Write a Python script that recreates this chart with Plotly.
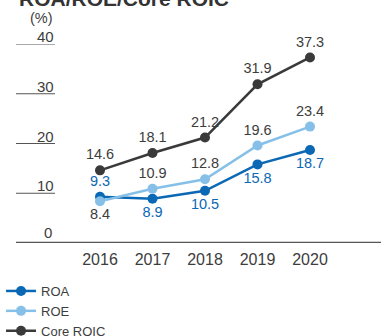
import plotly.graph_objects as go

years = [2016, 2017, 2018, 2019, 2020]
roa = [9.3, 8.9, 10.5, 15.8, 18.7]
roe = [8.4, 10.9, 12.8, 19.6, 23.4]
roic = [14.6, 18.1, 21.2, 31.9, 37.3]
y_ticks = [10, 20, 30, 40]
title_text = "ROA/ROE/Core ROIC"
unit_text = "(%)"

C_ROA = "#0a68b4"
C_ROE = "#86c0e8"
C_ROIC = "#3a3a3a"
C_TXT = "#3d3d3d"
FONT = "Liberation Sans, Arial, sans-serif"

W, H = 381, 336
L, R, T, B = 16, 0, 44, 93
plot_h = H - T - B
plot_w = W - L - R

def py(p):
    return (H - B - p) / plot_h

fig = go.Figure()
fig.add_trace(go.Scatter(
    x=years, y=roa, name="ROA", mode="lines+markers+text",
    line=dict(color=C_ROA, width=2.5), marker=dict(size=10, color=C_ROA),
    text=[f"{v}" for v in roa],
    textposition=["top center"] + ["bottom center"] * 4,
    textfont=dict(color=C_ROA, size=14.5, family=FONT),
    cliponaxis=False,
))
fig.add_trace(go.Scatter(
    x=years, y=roe, name="ROE", mode="lines+markers+text",
    line=dict(color=C_ROE, width=2.5), marker=dict(size=10, color=C_ROE),
    text=[f"{v}" for v in roe],
    textposition=["bottom center"] + ["top center"] * 4,
    textfont=dict(color=C_TXT, size=14.5, family=FONT),
    cliponaxis=False,
))
fig.add_trace(go.Scatter(
    x=years, y=roic, name="Core ROIC", mode="lines+markers+text",
    line=dict(color=C_ROIC, width=2.5), marker=dict(size=10, color=C_ROIC),
    text=[f"{v}" for v in roic],
    textposition="top center",
    textfont=dict(color=C_TXT, size=14.5, family=FONT),
    cliponaxis=False,
))

seg_frac = 39 / plot_w
shapes = []
annotations = []
for v in y_ticks:
    shapes.append(dict(type="line", xref="x domain", yref="y", x0=0, x1=seg_frac,
                       y0=v, y1=v, line=dict(color="#555555", width=1)))
    annotations.append(dict(xref="x domain", yref="y", x=seg_frac + 0.004, y=v,
                            text=str(v), showarrow=False, xanchor="right", yanchor="bottom",
                            font=dict(size=15, color=C_TXT, family=FONT), yshift=-3))
annotations.append(dict(xref="x domain", yref="y", x=seg_frac - 0.004, y=0,
                        text="0", showarrow=False, xanchor="right", yanchor="bottom",
                        font=dict(size=15, color=C_TXT, family=FONT), yshift=0))
shapes.append(dict(type="line", xref="x domain", yref="y", x0=0, x1=1, y0=0, y1=0,
                   line=dict(color="#555555", width=2.5)))
annotations.append(dict(xref="x domain", yref="paper", x=seg_frac, y=py(18),
                        text=unit_text, showarrow=False, xanchor="right", yanchor="middle",
                        font=dict(size=14.5, color=C_TXT, family=FONT)))
annotations.append(dict(xref="paper", yref="paper", x=0.003, y=py(-2), text="<b>" + title_text + "</b>",
                        showarrow=False, xanchor="left", yanchor="middle",
                        font=dict(size=21, color="#333333", family=FONT)))

px_per_year = 52.5
x0 = 2016 - (100 - L) / px_per_year
x1 = x0 + plot_w / px_per_year

fig.update_layout(
    width=W, height=H,
    margin=dict(l=L, r=R, t=T, b=B, autoexpand=False),
    paper_bgcolor="white", plot_bgcolor="white",
    font=dict(family=FONT, color=C_TXT),
    xaxis=dict(range=[x0, x1], tickvals=years, ticktext=[str(y) for y in years],
               showgrid=False, zeroline=False, showline=False, ticks="",
               ticklabelstandoff=5,
               tickfont=dict(size=16, color=C_TXT, family=FONT)),
    yaxis=dict(range=[0, 40], showgrid=False, zeroline=False, showline=False,
               showticklabels=False, ticks=""),
    shapes=shapes, annotations=annotations,
    showlegend=True,
    legend=dict(x=-0.041, y=py(276), xanchor="left", yanchor="top",
                font=dict(size=13, color=C_TXT, family=FONT),
                bgcolor="rgba(0,0,0,0)", tracegroupgap=0, itemwidth=30,
                traceorder="normal"),
)

fig.write_html("out.html")
